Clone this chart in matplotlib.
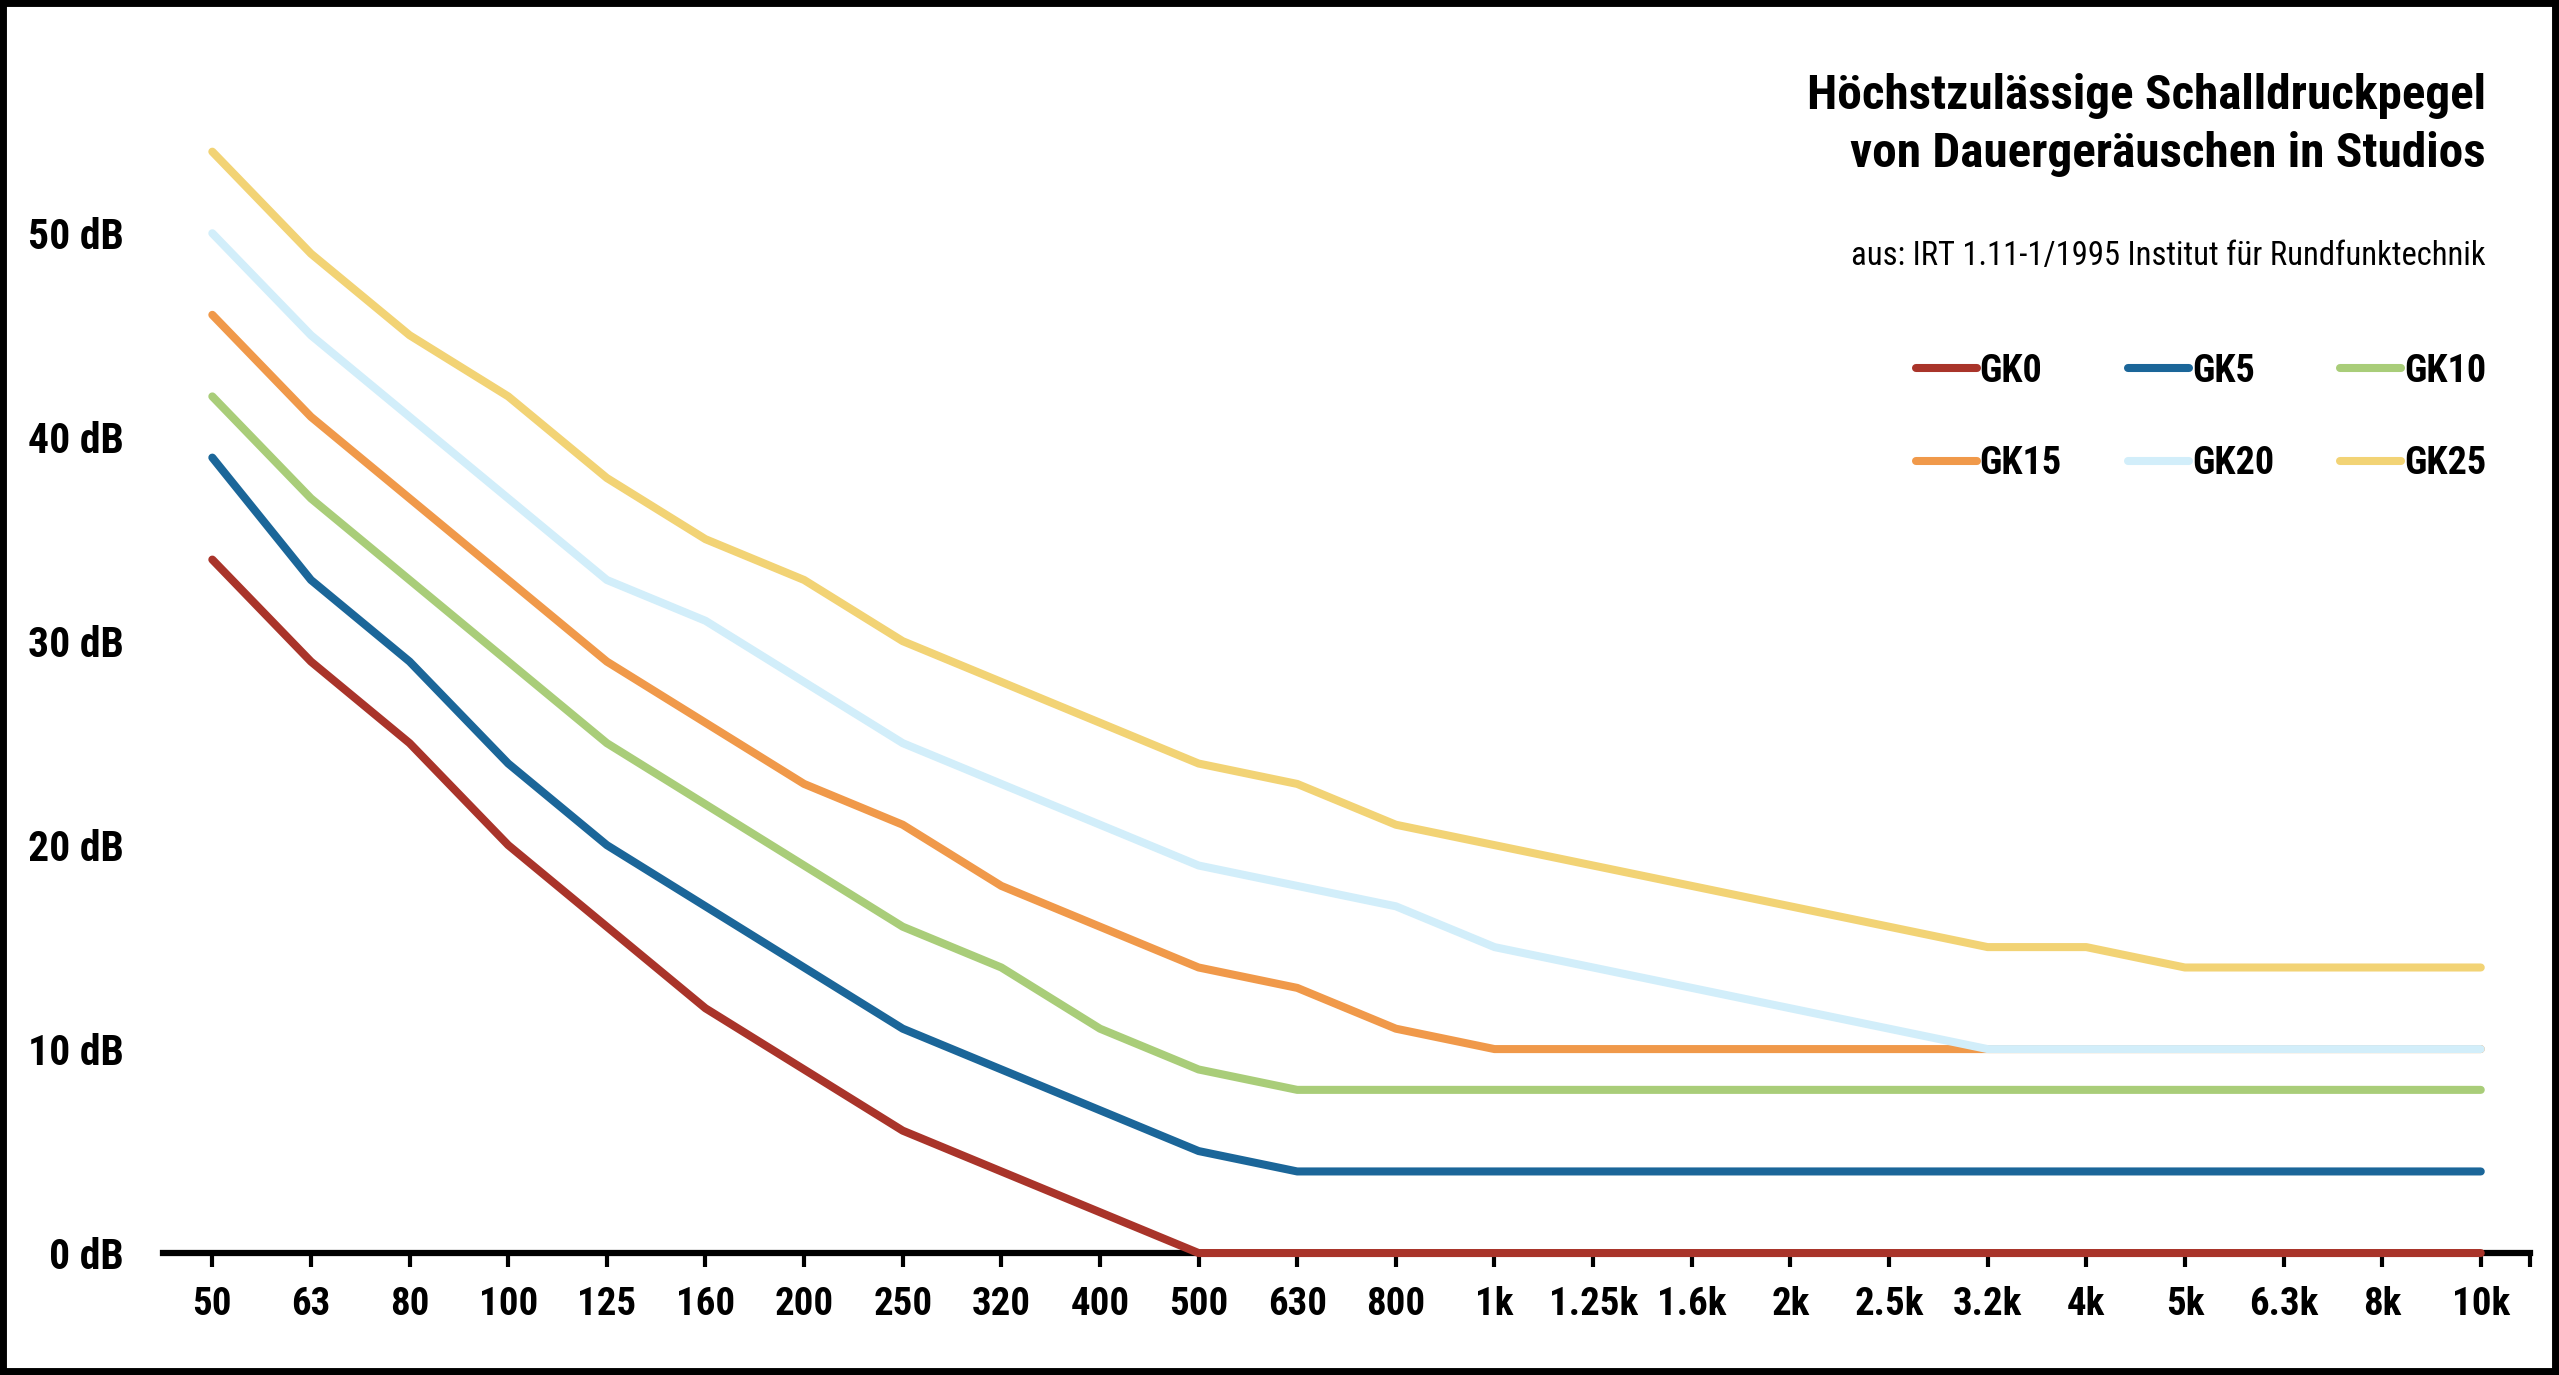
import matplotlib
matplotlib.use('Agg')
import matplotlib.pyplot as plt
from matplotlib import font_manager
from matplotlib.patches import Rectangle

# frequencies (category axis) and levels in dB
freqs = ['50', '63', '80', '100', '125', '160', '200', '250', '320', '400',
         '500', '630', '800', '1k', '1.25k', '1.6k', '2k', '2.5k', '3.2k',
         '4k', '5k', '6.3k', '8k', '10k']

gk0 = [34, 29, 25, 20, 16, 12, 9, 6, 4, 2, 0, 0, 0, 0, 0, 0, 0, 0, 0, 0, 0, 0, 0, 0]
gk5 = [39, 33, 29, 24, 20, 17, 14, 11, 9, 7, 5, 4, 4, 4, 4, 4, 4, 4, 4, 4, 4, 4, 4, 4]
gk10 = [42, 37, 33, 29, 25, 22, 19, 16, 14, 11, 9, 8, 8, 8, 8, 8, 8, 8, 8, 8, 8, 8, 8, 8]
gk15 = [46, 41, 37, 33, 29, 26, 23, 21, 18, 16, 14, 13, 11, 10, 10, 10, 10, 10, 10, 10, 10, 10, 10, 10]
gk20 = [50, 45, 41, 37, 33, 31, 28, 25, 23, 21, 19, 18, 17, 15, 14, 13, 12, 11, 10, 10, 10, 10, 10, 10]
gk25 = [54, 49, 45, 42, 38, 35, 33, 30, 28, 26, 24, 23, 21, 20, 19, 18, 17, 16, 15, 15, 14, 14, 14, 14]

series = [('GK0', gk0, '#A9342A'),
          ('GK5', gk5, '#1B6699'),
          ('GK10', gk10, '#A9CD79'),
          ('GK15', gk15, '#F0994A'),
          ('GK20', gk20, '#D2EEFA'),
          ('GK25', gk25, '#F2D375')]

yticks = [0, 10, 20, 30, 40, 50]

# pick a narrow font if one is around
names = set(f.name for f in font_manager.fontManager.ttflist)
font = 'DejaVu Sans'
for cand in ['Roboto Condensed', 'Liberation Sans Narrow', 'Open Sans Condensed', 'Noto Sans Condensed', 'Roboto']:
    if cand in names:
        font = cand
        break
plt.rcParams['font.family'] = [font, 'DejaVu Sans']

fig = plt.figure(figsize=(25.59, 13.75), dpi=100)
ax = fig.add_axes([0.0637, 0.0887, 0.9250, 0.890])

x = list(range(len(freqs)))
handles = {}
for name, vals, col in series:
    ln, = ax.plot(x, vals, color=col, lw=5.8, solid_capstyle='round',
                  solid_joinstyle='round', zorder=3, clip_on=False, label=name)
    handles[name] = ln

ax.set_xlim(-0.5, len(freqs) - 0.5)
ax.set_ylim(0, 60)

ax.set_xticks(x)
ax.set_xticklabels(freqs, fontsize=28, fontweight='bold')
ax.set_xticks([len(freqs) - 0.5], minor=True)
ax.tick_params(axis='x', which='both', length=10, width=3, color='black', pad=14)

ax.set_yticks(yticks)
ax.set_yticklabels([f'{v} dB' for v in yticks], fontsize=30, fontweight='bold')
ax.tick_params(axis='y', length=0, pad=28)

for s in ['top', 'right', 'left']:
    ax.spines[s].set_visible(False)
ax.spines['bottom'].set_linewidth(4.5)
ax.spines['bottom'].set_zorder(2)

# title block, right aligned
fig.text(0.9715, 0.909, 'Höchstzulässige Schalldruckpegel\nvon Dauergeräuschen in Studios',
         ha='right', va='center', fontsize=35.5, fontweight='bold', linespacing=1.32)
fig.text(0.9715, 0.814, 'aus: IRT 1.11-1/1995 Institut für Rundfunktechnik',
         ha='right', va='center', fontsize=23.5)

order = ['GK0', 'GK15', 'GK5', 'GK20', 'GK10', 'GK25']
leg = ax.legend([handles[n] for n in order], order, ncol=3, frameon=False,
                loc='upper right', bbox_to_anchor=(0.9790, 0.7575),
                bbox_transform=fig.transFigure, borderpad=0,
                prop={'size': 27.5, 'weight': 'bold'},
                handlelength=1.6, handletextpad=0.08, columnspacing=1.72,
                labelspacing=1.45)

# black frame around the picture
fig.patches.append(Rectangle((0, 0), 1, 1, transform=fig.transFigure,
                             fill=False, edgecolor='black', linewidth=10))

fig.savefig('out.png', dpi=100)
